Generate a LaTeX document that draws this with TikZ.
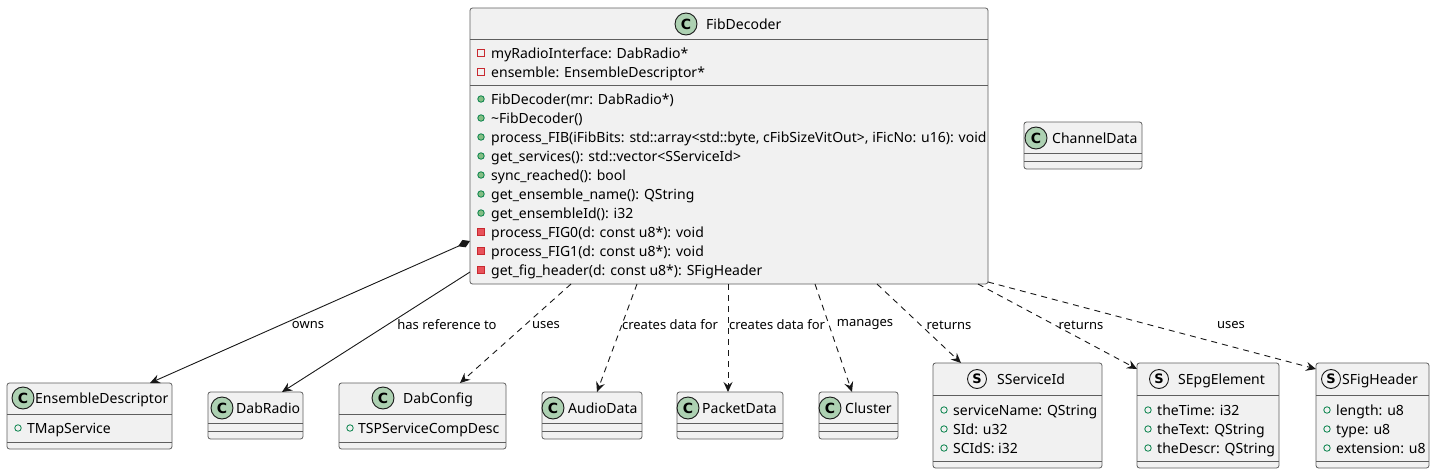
\documentclass[tikz,border=0pt]{standalone}
\usepackage{fontspec}
\setmainfont{Noto Sans}
\newfontfamily\umlspotfont{DejaVu Sans}
\usetikzlibrary{arrows.meta,calc}
\definecolor{boxfill}{HTML}{F1F1F1}
\definecolor{boxline}{HTML}{5E5E5E}
\definecolor{spotgreen}{HTML}{ADD1B2}
\definecolor{spotline}{HTML}{181818}
\definecolor{pubgreen}{HTML}{038048}
\definecolor{pubfill}{HTML}{84BE84}
\definecolor{privred}{HTML}{C82930}
\definecolor{privfill}{HTML}{E8525A}
\definecolor{linecol}{HTML}{181818}
\newcommand\umlmemfont{\fontsize{14}{16}\selectfont}
\newcommand\umllblfont{\fontsize{13}{15}\selectfont}
\newcommand\umlrow[6]{%
  \node[#2] (#1i) at (#3,#5) {};
  \node[member] (#1) at (#4,#5+5) {#6};}
\newcommand\umltitle[6]{%
  \node[#2] (#1s) at (#3,#6) {#4};
  \node[member] (#1t) at (#5,#6+5) {#1};}
\tikzset{
  umlbox/.style={draw=boxline, fill=boxfill, line width=0.8pt, rounded corners=2.5pt,
    anchor=north west, inner sep=0, outer sep=0},
  sepline/.style={draw=boxline, line width=0.8pt},
  cspot/.style={circle, draw=spotline, fill=spotgreen, line width=0.9pt, minimum size=22pt,
    inner sep=0, font=\umlspotfont\fontsize{14}{14}\selectfont\bfseries},
  sspot/.style={circle, draw=spotline, fill=boxfill, line width=0.9pt, minimum size=19pt,
    inner sep=0, font=\umlspotfont\fontsize{13}{13}\selectfont\bfseries},
  member/.style={anchor=base west, inner sep=0, font=\umlmemfont},
  pubf/.style={circle, draw=pubgreen, fill=none, line width=0.8pt, minimum size=6.5pt, inner sep=0},
  pubm/.style={circle, draw=pubgreen, fill=pubfill, line width=0.8pt, minimum size=6.5pt, inner sep=0},
  privf/.style={rectangle, draw=privred, fill=none, line width=0.8pt, minimum size=7pt, inner sep=0},
  privm/.style={rectangle, draw=privred, fill=privfill, line width=0.8pt, minimum size=7pt, inner sep=0},
  assoc/.style={draw=linecol, line width=0.9pt, -{Stealth[length=10pt,width=9pt,inset=3.5pt]}},
  compo/.style={draw=linecol, line width=0.9pt, {Diamond[length=13pt,width=8pt]}-{Stealth[length=10pt,width=9pt,inset=3.5pt]}},
  dep/.style={assoc, dash pattern=on 6pt off 5pt},
  lbl/.style={font=\umllblfont, inner sep=0}
}
\begin{document}
\begin{tikzpicture}[x=1pt,y=-1pt]
\useasboundingbox (0,0) rectangle (1435,474);
\fill[white] (0,0) rectangle (1435,474);

% ---------------- FibDecoder
\node[umlbox, minimum width=518pt, minimum height=276pt] (fib) at (470,8) {};
\draw[sepline] (470,39) -- (988,39);
\draw[sepline] (470,85) -- (988,85);
\umltitle{FibDecoder}{cspot}{686}{C}{706}{24}
\umlrow{fa1}{privf}{481}{491}{53}{myRadioInterface: DabRadio*}
\umlrow{fa2}{privf}{481}{491}{72}{ensemble: EnsembleDescriptor*}
\umlrow{fm1}{pubm}{481}{491}{99}{FibDecoder(mr: DabRadio*)}
\umlrow{fm2}{pubm}{481}{491}{118}{\textasciitilde FibDecoder()}
\umlrow{fm3}{pubm}{481}{491}{137}{process\_FIB(iFibBits: std::array<std::byte, cFibSizeVitOut>, iFicNo: u16): void}
\umlrow{fm4}{pubm}{481}{491}{156}{get\_services(): std::vector<SServiceId>}
\umlrow{fm5}{pubm}{481}{491}{175}{sync\_reached(): bool}
\umlrow{fm6}{pubm}{481}{491}{194}{get\_ensemble\_name(): QString}
\umlrow{fm7}{pubm}{481}{491}{213}{get\_ensembleId(): i32}
\umlrow{fm8}{privm}{481}{491}{232}{process\_FIG0(d: const u8*): void}
\umlrow{fm9}{privm}{481}{491}{251}{process\_FIG1(d: const u8*): void}
\umlrow{fm10}{privm}{481}{491}{270}{get\_fig\_header(d: const u8*): SFigHeader}

% ---------------- ChannelData
\node[umlbox, minimum width=118pt, minimum height=47pt] (chan) at (1024,122) {};
\draw[sepline] (1024,153) -- (1142,153);
\draw[sepline] (1024,161) -- (1142,161);
\umltitle{ChannelData}{cspot}{1036}{C}{1052}{138}

% ---------------- EnsembleDescriptor
\node[umlbox, minimum width=165pt, minimum height=66pt] (ens) at (7,383) {};
\draw[sepline] (7,414) -- (172,414);
\draw[sepline] (7,442) -- (172,442);
\umltitle{EnsembleDescriptor}{cspot}{23}{C}{35}{398}
\umlrow{ea1}{pubf}{18}{27}{428}{TMapService}

% ---------------- DabRadio
\node[umlbox, minimum width=95pt, minimum height=47pt] (dabradio) at (208,392) {};
\draw[sepline] (208,423) -- (303,423);
\draw[sepline] (208,431) -- (303,431);
\umltitle{DabRadio}{cspot}{222}{C}{236}{408}

% ---------------- DabConfig
\node[umlbox, minimum width=167pt, minimum height=66pt] (dabconfig) at (339,383) {};
\draw[sepline] (339,414) -- (506,414);
\draw[sepline] (339,442) -- (506,442);
\umltitle{DabConfig}{cspot}{383}{C}{403}{398}
\umlrow{da1}{pubf}{350}{358}{428}{TSPServiceCompDesc}

% ---------------- AudioData
\node[umlbox, minimum width=100pt, minimum height=47pt] (audio) at (542,392) {};
\draw[sepline] (542,423) -- (642,423);
\draw[sepline] (542,431) -- (642,431);
\umltitle{AudioData}{cspot}{553}{C}{568}{408}

% ---------------- PacketData
\node[umlbox, minimum width=106pt, minimum height=47pt] (packet) at (677,392) {};
\draw[sepline] (677,423) -- (783,423);
\draw[sepline] (677,431) -- (783,431);
\umltitle{PacketData}{cspot}{688}{C}{702}{408}

% ---------------- Cluster
\node[umlbox, minimum width=79pt, minimum height=47pt] (cluster) at (819,392) {};
\draw[sepline] (819,423) -- (898,423);
\draw[sepline] (819,431) -- (898,431);
\umltitle{Cluster}{cspot}{830}{C}{845}{408}

% ---------------- SServiceId
\node[umlbox, minimum width=169pt, minimum height=105pt] (sserv) at (933,363) {};
\draw[sepline] (933,395) -- (1102,395);
\draw[sepline] (933,461) -- (1102,461);
\umltitle{SServiceId}{sspot}{977}{S}{997}{379}
\umlrow{sa1}{pubf}{944}{953}{410}{serviceName: QString}
\umlrow{sa2}{pubf}{944}{953}{429}{SId: u32}
\umlrow{sa3}{pubf}{944}{953}{448}{SCIdS: i32}

% ---------------- SEpgElement
\node[umlbox, minimum width=142pt, minimum height=105pt] (sepg) at (1137,363) {};
\draw[sepline] (1137,395) -- (1279,395);
\draw[sepline] (1137,461) -- (1279,461);
\umltitle{SEpgElement}{sspot}{1159}{S}{1178}{379}
\umlrow{ga1}{pubf}{1148}{1157}{410}{theTime: i32}
\umlrow{ga2}{pubf}{1148}{1157}{429}{theText: QString}
\umlrow{ga3}{pubf}{1148}{1157}{448}{theDescr: QString}

% ---------------- SFigHeader
\node[umlbox, minimum width=113pt, minimum height=105pt] (sfig) at (1316,363) {};
\draw[sepline] (1316,395) -- (1429,395);
\draw[sepline] (1316,461) -- (1429,461);
\umltitle{SFigHeader}{sspot}{1331}{S}{1342}{379}
\umlrow{ha1}{pubf}{1327}{1336}{410}{length: u8}
\umlrow{ha2}{pubf}{1327}{1336}{429}{type: u8}
\umlrow{ha3}{pubf}{1327}{1336}{448}{extension: u8}

% ---------------- connectors
\draw[compo] ([yshift=-233pt]fib.north west) -- ([xshift=143pt]ens.north west);
\draw[assoc] ([yshift=-264pt]fib.north west) -- ([xshift=74pt]dabradio.north west);
\draw[dep] ([xshift=101pt]fib.south west) -- ([xshift=121pt]dabconfig.north west);
\draw[dep] ([xshift=167pt]fib.south west) -- ([xshift=55pt]audio.north west);
\draw[dep] ([xshift=258pt]fib.south west) -- ([xshift=51pt]packet.north west);
\draw[dep] ([xshift=345pt]fib.south west) -- ([xshift=33pt]cluster.north west);
\draw[dep] ([xshift=407pt]fib.south west) -- ([xshift=28pt]sserv.north west);
\draw[dep] ([xshift=508pt]fib.south west) -- ([yshift=-6pt]sepg.north west);
\draw[dep] ([yshift=-274pt]fib.north east) -- ([yshift=-6pt]sfig.north west);

% ---------------- labels
\node[lbl] (l1) at (308,325) {owns};
\node[lbl] (l2) at (447,325) {has reference to};
\node[lbl] (l3) at (546,325) {uses};
\node[lbl] (l4) at (670,325) {creates data for};
\node[lbl] (l5) at (777,325) {creates data for};
\node[lbl] (l6) at (865,325) {manages};
\node[lbl] (l7) at (949,325) {returns};
\node[lbl] (l8) at (1081,325) {returns};
\node[lbl] (l9) at (1231,325) {uses};
\end{tikzpicture}
\end{document}
